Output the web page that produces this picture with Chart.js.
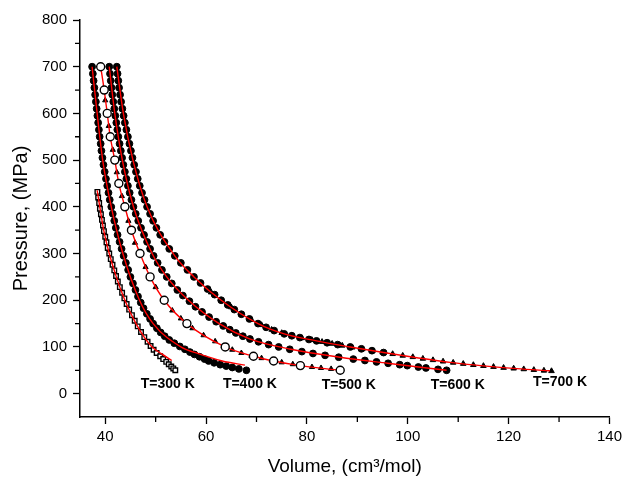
<!DOCTYPE html>
<html>
<head>
<meta charset="utf-8">
<script src="https://cdn.jsdelivr.net/npm/chart.js@4.4.1/dist/chart.umd.min.js"></script>
<style>
  html, body { margin: 0; padding: 0; background: #fff; }
  #wrap { width: 626px; height: 480px; }
</style>
</head>
<body>
<div id="wrap"><canvas id="pvChart" width="626" height="480"></canvas></div>
<script>
// axis ticks
const xTicks = [40, 60, 80, 100, 120, 140];
const yTicks = [0, 100, 200, 300, 400, 500, 600, 700, 800];
const xMinor = [50, 70, 90, 110, 130];
const yMinor = [-50, 50, 150, 250, 350, 450, 550, 650, 750];

const isoLabels = ['T=300 K', 'T=400 K', 'T=500 K', 'T=600 K', 'T=700 K'];

// T=300 K, open squares
const v300 = [38.45,38.6,38.8,38.95,39.15,39.35,39.55,39.75,40.0,40.25,40.5,40.8,41.1,41.45,41.8,42.15,42.5,42.9,43.35,43.8,44.25,44.75,45.3,45.85,46.45,47.1,47.75,48.4,49.0,49.6,50.2,50.9,51.5,52.1,52.6,53.1,53.5,53.9];
const p300 = [432,420,408,396,384,372,360,348,336,324,312,300,288,276,264,252,240,228,216,204,192,180,168,156,144,132,121,111,102,94,87,80,74,68,63,58,54,50];
const fit300V = [38.4,39.0,39.7,40.8,42.2,43.9,46.1,47.8,49.3,51.2,53.2];
const fit300P = [435,395,350,300,250,200,150,120,100,85,71];

// T=400 K
const v400 = [37.4,37.55,37.7,37.85,38.0,38.15,38.3,38.45,38.6,38.75,38.9,39.1,39.25,39.45,39.65,39.9,40.15,40.4,40.65,40.9,41.2,41.5,41.8,42.1,42.45,42.85,43.25,43.65,44.1,44.55,45.0,45.5,46.0,46.5,47.05,47.6,48.25,48.9,49.5,50.25,51.0,51.8,52.7,53.7,54.8,55.8,56.8,57.7,58.7,59.7,60.5,61.6,62.8,64.0,65.2,66.5,68.0];
const p400 = [700,685,670,655,640,625,610,595,580,565,550,535,520,505,490,475,460,445,430,415,400,385,370,355,340,325,310,295,280,265,250,236,222,208,195,183,171,160,150,140,131,123,115,108,101,95,89,84,79,74,70,66,62,59,56,53,50];
const fit400V = [37.4,38.4,39.5,41.2,43.5,46.8,49.5,55.0,58.6,63.2,67.7];
const fit400P = [700,600,500,400,300,200,150,100,85,70,61];

// T=500 K, open circles + triangles
const c500V = [39.1,39.8,40.4,41.0,41.9,42.7,43.9,45.2,46.9,48.9,51.7,56.2,63.8,69.4,73.4,78.7,86.6];
const c500P = [700,650,600,550,500,450,400,350,300,250,200,150,100,80,70,60,50];
const t500V = [40.0,40.7,41.5,42.3,43.3,44.6,45.9,48.0,50.0,53.3,55.0,57.3,59.5,61.8,63.5,65.2,67.0,69.0,71.0,73.0,75.0,77.2,79.0,81.0,82.8,84.8];
const t500P = [628,573,522,474,423,370,323,271,228,178,161,140,125,112,102,94,87,81,76,71,67,63,60,57,55,53];

// T=600 K
const v600 = [40.8,40.95,41.1,41.25,41.4,41.6,41.8,42.0,42.2,42.4,42.6,42.85,43.1,43.35,43.6,43.9,44.2,44.5,44.85,45.2,45.6,46.05,46.55,47.1,47.7,48.3,48.9,49.6,50.4,51.25,52.2,53.2,54.3,55.4,56.7,57.9,59.2,60.6,62.0,63.4,64.7,65.9,67.3,68.7,70.4,72.4,74.4,76.6,79.0,81.2,83.6,86.3,89.2,91.5,93.8,96.1,98.4,99.9,102.1,103.6,106.0,107.7];
const p600 = [700,685,670,655,640,625,610,595,580,565,550,535,520,505,490,475,460,445,430,415,400,385,370,355,340,325,310,295,280,265,250,236,222,210,198,186,175,164,154,145,137,130,123,117,111,105,100,95,90,86,82,78,74,71,68,65,62,60,57,55,52,50];
const fit600V = [40.8,41.9,43.4,45.6,49.3,52.2,56.5,62.6,68.5,76.8,86.5,96.0,107.7];
const fit600P = [700,600,500,400,300,250,200,150,118,95,78,65,50];

// T=700 K, circles + triangles
const v700 = [42.3,42.45,42.6,42.75,42.95,43.15,43.4,43.65,43.9,44.2,44.5,44.8,45.1,45.4,45.75,46.1,46.45,46.85,47.3,47.8,48.3,48.9,49.5,50.15,50.9,51.75,52.7,53.8,55.0,56.3,57.6,58.9,60.3,61.7,63.0,64.3,65.6,67.0,68.6,70.3,71.9,73.5,75.5,77.0,78.6,80.4,81.9,84.0,86.1,88.6,90.8,92.9,95.2];
const p700 = [700,685,670,655,640,625,610,595,580,565,550,535,520,505,490,475,460,445,430,415,400,385,370,355,340,325,310,295,280,265,250,237,224,212,200,190,180,170,160,150,142,135,128,124,120,116,113,109,105,100,96,92,88];
const t700V = [61,63,65,67,69,71,73,75,77,79,81,83,85,87,89,91,93,95,97,99,101,103,105,107,109,111,113,115,117,119,121,123,125,127,128.5];
const t700P = [217,200,185,170,158,147,137,130,124,119,115,111,107,103,99,95.5,92,88.5,85,81.5,78.5,75,72,69,66.5,64,61.5,59.5,57.5,55.5,54,52.5,51,49.5,48.5];
const fit700V = [42.3,43.6,45.5,48.3,53.8,57.6,63.0,70.3,75.5,81.9,88.6,95.2,101.8,108.4,115.0,121.6,128.2];
const fit700P = [700,600,500,400,295,250,200,150,128,113,100,88,77,67,59.5,53.5,49];

const pts = (vs, ps) => vs.map((v, i) => ({ x: v, y: ps[i] }));

Chart.defaults.font.family = '"Liberation Sans", Arial, sans-serif';
Chart.defaults.color = '#000';

const fitLine = (vs, ps) => ({
    data: pts(vs, ps),
    showLine: true,
    borderColor: '#ff0000',
    borderWidth: 1.4,
    pointRadius: 0,
    cubicInterpolationMode: 'monotone',
    order: 1
});

const markers = (vs, ps, style, r, fill, bw) => ({
    data: pts(vs, ps),
    pointStyle: style,
    pointRadius: r,
    pointBackgroundColor: fill,
    pointBorderColor: '#000',
    pointBorderWidth: bw,
    order: 2
});

// minor tick marks, chart.js has no built-in minor ticks
const minorTicks = {
    id: 'minorTicks',
    afterDraw(chart) {
        const { ctx, scales: { x, y } } = chart;
        ctx.save();
        ctx.strokeStyle = '#000';
        ctx.lineWidth = 1.3;
        ctx.beginPath();
        xMinor.forEach(v => {
            const px = x.getPixelForValue(v);
            ctx.moveTo(px, y.bottom);
            ctx.lineTo(px, y.bottom + 5);
        });
        yMinor.forEach(v => {
            const py = y.getPixelForValue(v);
            if (v <= y.min) return;
            ctx.moveTo(x.left, py);
            ctx.lineTo(x.left - 5, py);
        });
        ctx.stroke();
        ctx.restore();
    }
};

// isotherm names under the curve ends
const tempLabels = {
    id: 'tempLabels',
    afterDatasetsDraw(chart) {
        const { ctx, scales: { x, y } } = chart;
        const at = [[52.4, 20], [68.7, 20], [88.3, 18], [109.9, 18], [130.2, 25]];
        ctx.save();
        ctx.fillStyle = '#000';
        ctx.font = 'bold 14px "Liberation Sans", Arial, sans-serif';
        ctx.textAlign = 'center';
        ctx.textBaseline = 'middle';
        isoLabels.forEach((t, i) => {
            ctx.fillText(t, x.getPixelForValue(at[i][0]), y.getPixelForValue(at[i][1]));
        });
        ctx.restore();
    }
};

const ctx = document.getElementById('pvChart').getContext('2d');
const chart = new Chart(ctx, {
    type: 'scatter',
    data: {
        datasets: [
            fitLine(fit300V, fit300P),
            fitLine(fit400V, fit400P),
            fitLine(c500V, c500P),
            fitLine(fit600V, fit600P),
            fitLine(fit700V, fit700P),
            markers(v300, p300, 'rect', 3.2, '#fff', 1.4),
            markers(v400, p400, 'circle', 3.4, '#000', 1),
            markers(t500V, t500P, 'triangle', 3, '#000', 1),
            markers(v600, p600, 'circle', 3.4, '#000', 1),
            markers(v700, p700, 'circle', 3.4, '#000', 1),
            markers(t700V, t700P, 'triangle', 3.2, '#000', 1),
            Object.assign(markers(c500V, c500P, 'circle', 4, '#fff', 1.4), { order: 0 })
        ]
    },
    options: {
        responsive: false,
        animation: false,
        devicePixelRatio: 1,
        layout: { padding: { left: 0, right: 14, top: 20, bottom: 0 } },
        plugins: {
            legend: { display: false },
            tooltip: { enabled: false }
        },
        scales: {
            x: {
                type: 'linear',
                min: 35,
                max: 140,
                afterBuildTicks: s => { s.ticks = xTicks.map(v => ({ value: v })); },
                afterFit: s => { s.height = 63; },
                grid: { drawOnChartArea: false, drawTicks: true, tickLength: 7, tickWidth: 1.3, tickColor: '#000' },
                border: { color: '#000', width: 1.5 },
                ticks: { color: '#000', font: { size: 15 }, padding: 4, maxRotation: 0 },
                title: { display: true, text: 'Volume, (cm³/mol)', color: '#000', font: { size: 19 }, padding: { top: 0, bottom: 2 } }
            },
            y: {
                min: -50,
                max: 800,
                afterBuildTicks: s => { s.ticks = yTicks.map(v => ({ value: v })); },
                afterFit: s => { s.width = 80; },
                grid: { drawOnChartArea: false, drawTicks: true, tickLength: 7, tickWidth: 1.3, tickColor: '#000' },
                border: { color: '#000', width: 1.5 },
                ticks: { color: '#000', font: { size: 15 }, padding: 6 },
                title: { display: true, text: 'Pressure, (MPa)', color: '#000', font: { size: 20 }, padding: { top: 9, bottom: 0 } }
            }
        }
    },
    plugins: [minorTicks, tempLabels]
});
</script>
</body>
</html>
